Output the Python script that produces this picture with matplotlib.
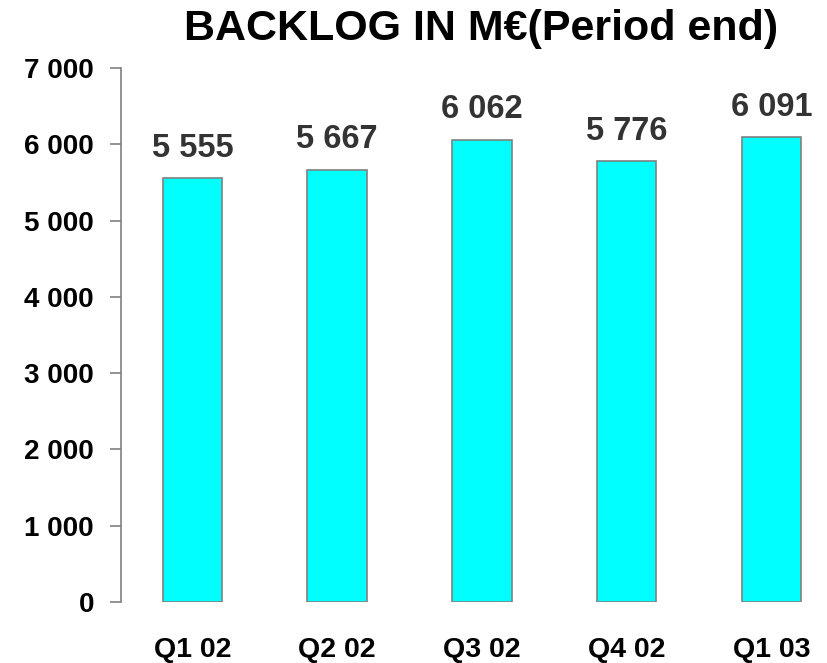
import numpy as np
import matplotlib
matplotlib.use("Agg")
import matplotlib.pyplot as plt

quarters = ["Q1 02", "Q2 02", "Q3 02", "Q4 02", "Q1 03"]
backlog = [5555, 5667, 6062, 5776, 6091]
yticks = [0, 1000, 2000, 3000, 4000, 5000, 6000, 7000]

plt.rcParams['font.family'] = ['Liberation Sans', 'DejaVu Sans']
plt.rcParams['font.weight'] = 'bold'


def fmt(v):
    # thousands separated by a space
    return f"{v:,}".replace(",", " ")


fig = plt.figure(figsize=(8.27, 6.63), dpi=100)
ax = fig.add_axes([121 / 827, 61 / 663, 1 - 121 / 827, 534 / 663])

x = np.arange(len(quarters))
bars = ax.bar(x, backlog, width=0.41, color="#00ffff", edgecolor="#808080", linewidth=1.2)

for b, v in zip(bars, backlog):
    ax.annotate(fmt(v), (b.get_x() + b.get_width() / 2, v), xytext=(0, 15.5),
                textcoords="offset points", ha="center", va="baseline",
                fontsize=23.5, fontweight="bold", color="#333333")

ax.set_xlim(-0.493, 4.383)
ax.set_ylim(0, 7000)
ax.set_yticks(yticks)
ax.set_yticklabels([fmt(t) for t in yticks], fontsize=20, fontweight="bold")
ax.set_xticks(x)
ax.set_xticklabels(quarters, fontsize=20.5, fontweight="bold")

for s in ["top", "right", "bottom"]:
    ax.spines[s].set_visible(False)
ax.spines["left"].set_color("#808080")
ax.spines["left"].set_linewidth(1.2)
ax.tick_params(axis="y", length=8, width=1.2, color="#808080", pad=11.5)
ax.tick_params(axis="x", length=0, pad=25)

fig.text(481 / 827, 1 - 40 / 663, "BACKLOG IN M€(Period end)", ha="center", va="baseline",
         fontsize=31, fontweight="bold")

fig.savefig("out.png", dpi=100)
